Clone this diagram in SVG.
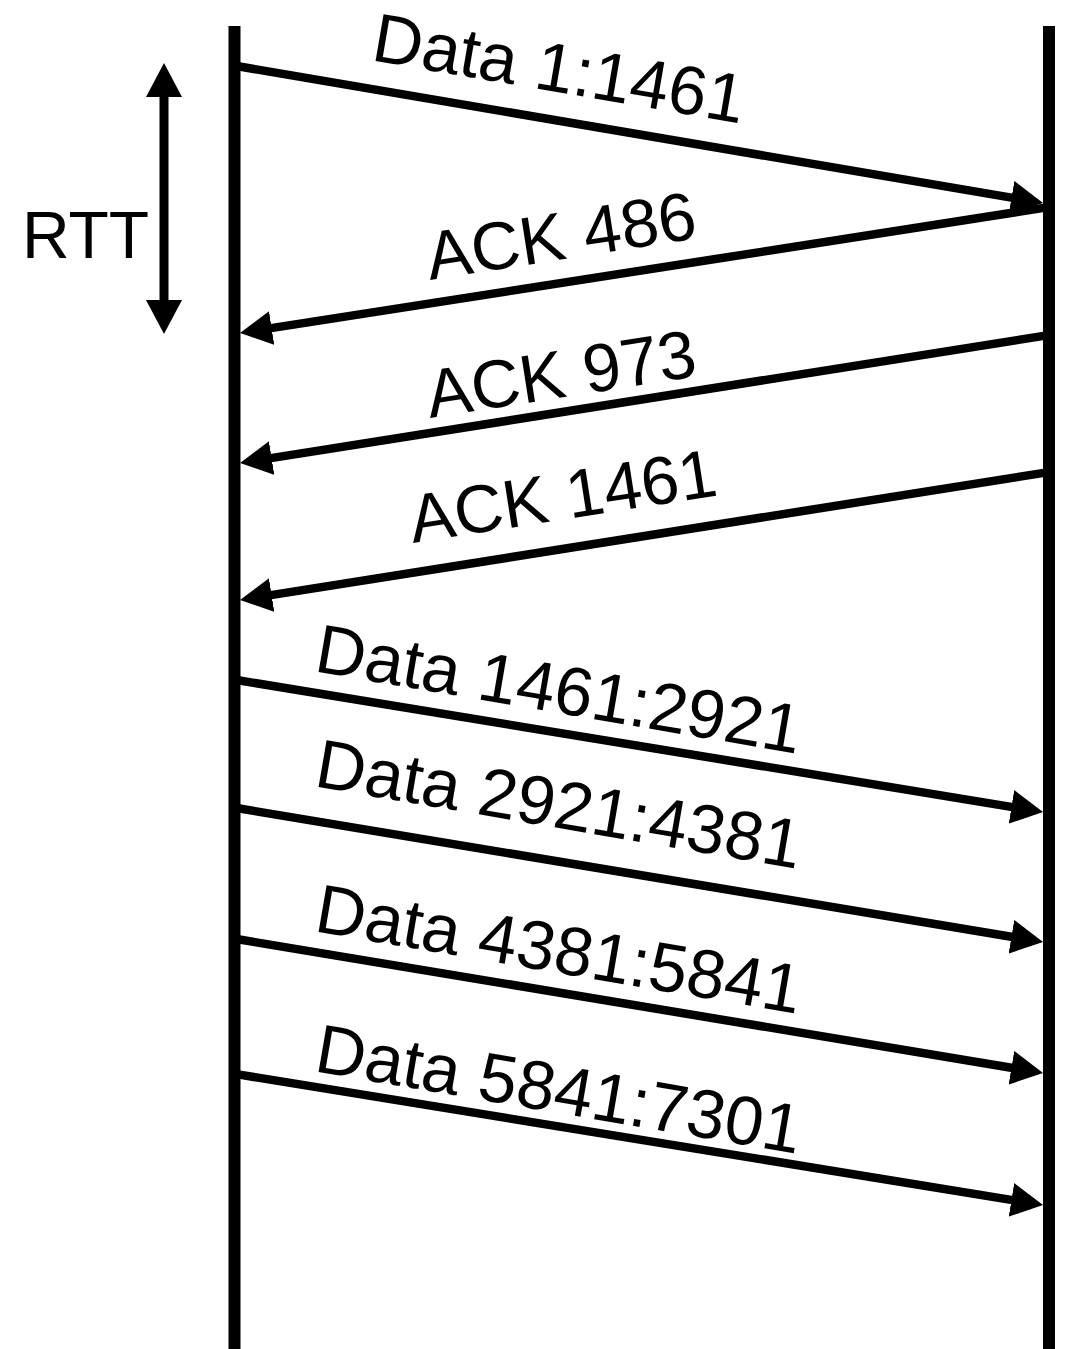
<svg xmlns="http://www.w3.org/2000/svg" width="1065" height="1349" viewBox="0 0 1065 1349">
<style>
.life{stroke:#000;stroke-width:12;fill:none}
.msg{stroke:#000;stroke-width:8.5;fill:none;marker-end:url(#ah)}
.lbl{font-family:"Liberation Sans",Arial,Helvetica,sans-serif;font-size:69px;fill:#000}
.ack{font-size:68px}
</style>
<defs>
<marker id="ah" viewBox="0 0 32 34" markerWidth="32" markerHeight="34" markerUnits="userSpaceOnUse" refX="12" refY="17" orient="auto">
<path d="M0,0 L32,17 L0,34 Z" fill="#000"/>
</marker>
</defs>
<rect width="1065" height="1349" fill="#fff"/>
<g id="sender"><line class="life" x1="234.5" y1="26" x2="234.5" y2="1349"/></g>
<g id="receiver"><line class="life" x1="1049" y1="26" x2="1049" y2="1349"/></g>
<g id="rtt">
<line x1="164" y1="90" x2="164" y2="306" stroke="#000" stroke-width="9"/>
<polygon points="164,63 182,97 146,97" fill="#000"/>
<polygon points="164,334 182,300 146,300" fill="#000"/>
<text class="lbl" x="22" y="258" style="font-size:66px">RTT</text>
</g>
<g id="connectors">
<g id="m1"><line class="msg" x1="238" y1="66.3" x2="1023.3" y2="199.7"/>
<text class="lbl" transform="translate(370,60) rotate(9.7)">Data 1:1461</text></g>
<g id="m2"><line class="msg" x1="1047" y1="207.4" x2="259.8" y2="329.9"/>
<text class="lbl ack" transform="translate(430,280) rotate(-8.9)">ACK 486</text></g>
<g id="m3"><line class="msg" x1="1047" y1="335.4" x2="259.8" y2="459.9"/>
<text class="lbl ack" transform="translate(430,418) rotate(-8.9)">ACK 973</text></g>
<g id="m4"><line class="msg" x1="1047" y1="472.4" x2="259.8" y2="596.9"/>
<text class="lbl ack" transform="translate(413,543) rotate(-8.9)">ACK 1461</text></g>
<g id="m5"><line class="msg" x1="238" y1="680.3" x2="1023.3" y2="808.8"/>
<text class="lbl" transform="translate(313,671) rotate(9.7)">Data 1461:2921</text></g>
<g id="m6"><line class="msg" x1="238" y1="808.3" x2="1023.3" y2="938.7"/>
<text class="lbl" transform="translate(313,786) rotate(9.7)">Data 2921:4381</text></g>
<g id="m7"><line class="msg" x1="238" y1="939.3" x2="1023.3" y2="1069.7"/>
<text class="lbl" transform="translate(313,931) rotate(9.7)">Data 4381:5841</text></g>
<g id="m8"><line class="msg" x1="238" y1="1074.4" x2="1023.3" y2="1201.8"/>
<text class="lbl" transform="translate(313,1071) rotate(9.7)">Data 5841:7301</text></g>
</g>
</svg>
